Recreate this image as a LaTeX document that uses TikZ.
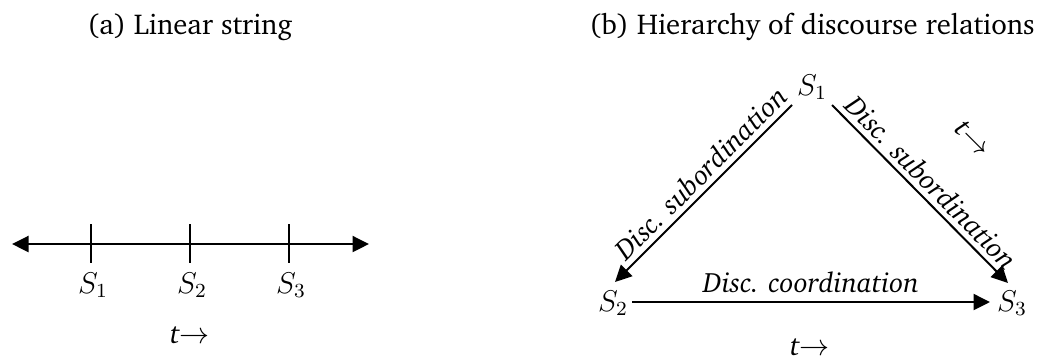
\documentclass[tikz,border=0pt]{standalone}
\IfFileExists{charter.sty}{\usepackage[T1]{fontenc}\usepackage{charter}}{}
\usetikzlibrary{arrows.meta,calc}
\begin{document}
\begin{tikzpicture}[x=0.4pt,y=-0.4pt,line width=0.8pt,
  >={Triangle[length=6.6pt,width=6.4pt]},
  every node/.style={font=\fontsize{11.5}{14}\selectfont},
  rel/.style={font=\fontsize{11.2}{14}\selectfont\itshape},
  lbl/.style={inner sep=1pt}]
\useasboundingbox (0,0) rectangle (1044,356);
% (a)
\node (ta) at (190,27) {(a) Linear string};
\coordinate (L) at (12,244);
\coordinate (R) at (369,244);
\draw[<->] (L) -- (R);
\node[lbl] (a1) at (93,285) {$S_1$};
\node[lbl] (a2) at (192,285) {$S_2$};
\node[lbl] (a3) at (291,285) {$S_3$};
\coordinate (k1) at (91,224);
\coordinate (k2) at (190,224);
\coordinate (k3) at (289,224);
\draw (k1) -- ++(0,39);
\draw (k2) -- ++(0,39);
\draw (k3) -- ++(0,39);
\node (tl) at (190,335) {\textit{t}$\rightarrow$};
% (b)
\node (tb) at (812,27) {(b) Hierarchy of discourse relations};
\node[lbl] (s1) at (812,87) {$S_1$};
\node[lbl] (s2) at (613,303) {$S_2$};
\node[lbl] (s3) at (1012,303) {$S_3$};
\draw[->] ($(s1)+(-20,18)$) -- node[rel,pos=0.45,above,sloped,inner sep=2pt] {Disc. subordination} ($(s2)+(2,-21)$);
\draw[->] ($(s1)+(20,18)$) -- node[rel,midway,above,sloped,inner sep=2pt] {Disc. subordination} ($(s3)+(-4,-20)$);
\draw[->] ($(s2)+(19,-1)$) -- node[rel,midway,above] {Disc. coordination} ($(s3)+(-22,-1)$);
\node[rotate=-45] (tr) at (973,139) {\textit{t}$\rightarrow$};
\node (tbb) at (810,347) {\textit{t}$\rightarrow$};
\end{tikzpicture}
\end{document}
